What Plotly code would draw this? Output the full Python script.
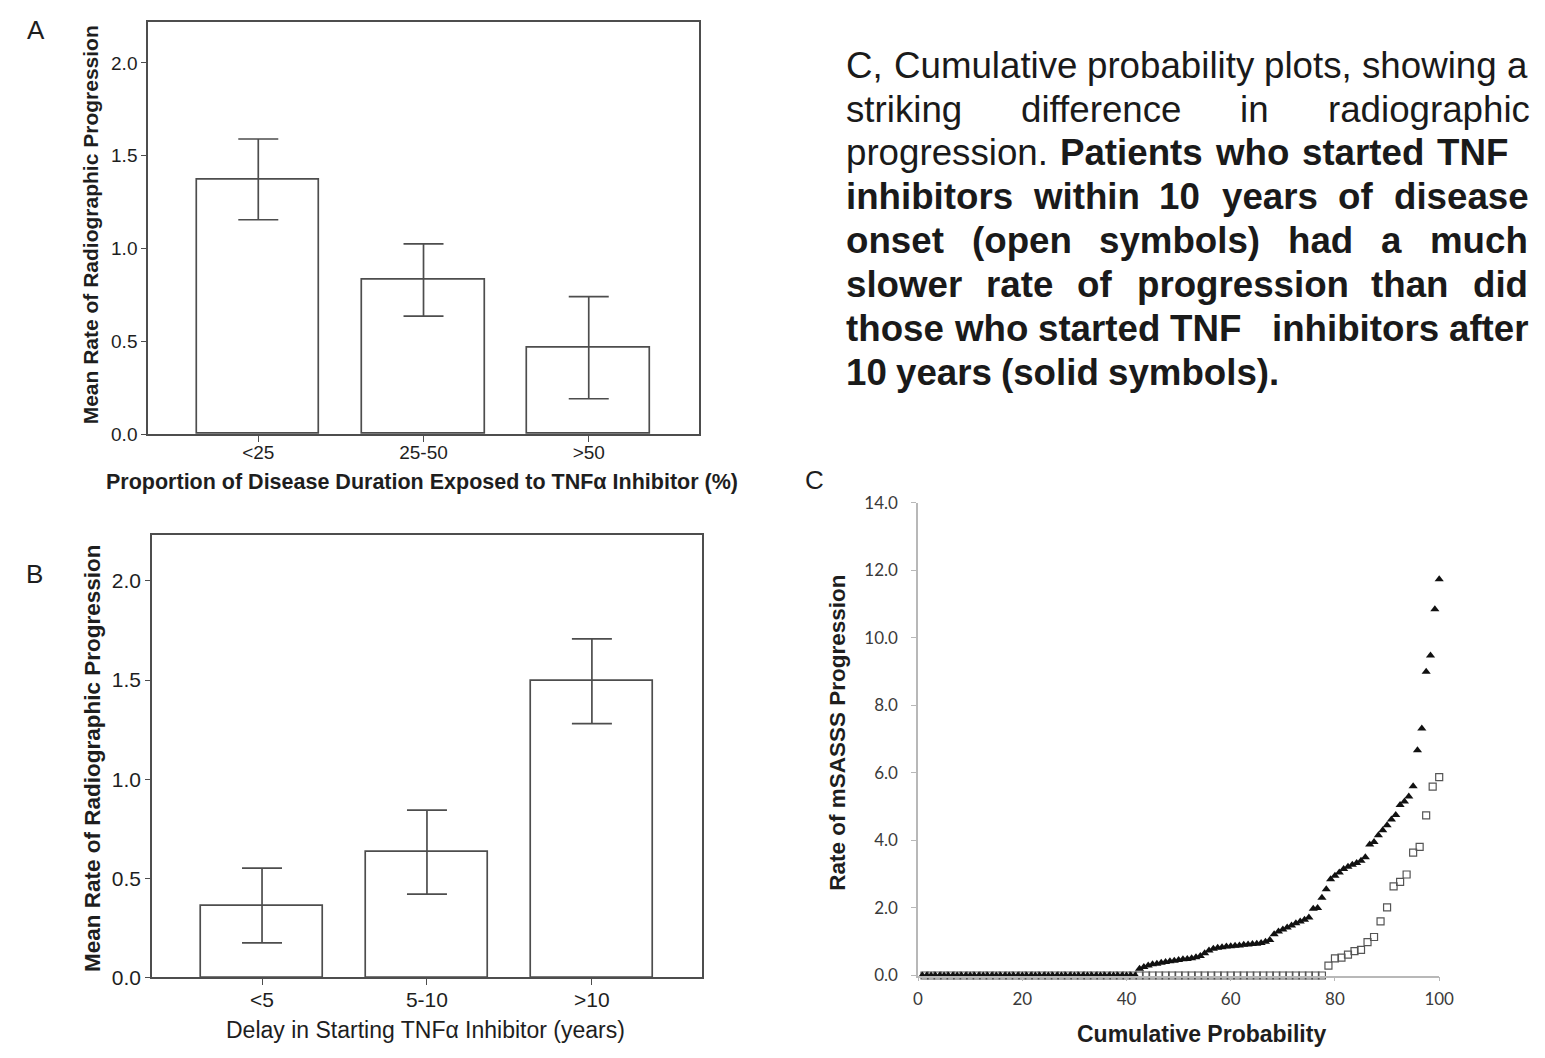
import plotly.graph_objects as go

W, H = 1545, 1058

# ---- Panel A: exposure proportion vs mean progression (mean with 95% CI) ----
exposure_groups = ["<25", "25-50", ">50"]
exposure_mean = [1.37, 0.83, 0.465]
exposure_ci_low = [1.155, 0.635, 0.19]
exposure_ci_high = [1.59, 1.025, 0.74]

# ---- Panel B: delay in starting treatment vs mean progression ----
delay_groups = ["<5", "5-10", ">10"]
delay_mean = [0.36, 0.632, 1.497]
delay_ci_low = [0.175, 0.42, 1.28]
delay_ci_high = [0.551, 0.844, 1.708]

# ---- Panel C: sorted mSASSS progression rates per group ----
# started after 10 years (solid triangles)
late_zero_count = 50
late_nonzero = [
    0.20, 0.25, 0.30, 0.33, 0.35, 0.38, 0.40, 0.42, 0.44, 0.46,
    0.48, 0.49, 0.51, 0.54, 0.58, 0.66, 0.74, 0.79, 0.82, 0.84,
    0.86, 0.87, 0.88, 0.89, 0.91, 0.92, 0.93, 0.94, 0.96, 1.00,
    1.05, 1.22, 1.30, 1.36, 1.42, 1.48, 1.55, 1.60, 1.65, 1.72,
    1.98, 2.00, 2.30, 2.55, 2.85, 2.95, 3.05, 3.15, 3.22, 3.28,
    3.33, 3.40, 3.50, 3.88, 3.95, 4.15, 4.30, 4.45, 4.62, 4.75,
    5.05, 5.15, 5.30, 5.60, 6.67, 7.31, 8.99, 9.47, 10.84, 11.73,
]
# started within 10 years (open squares)
early_zero_count = 62
early_nonzero = [
    0.29, 0.51, 0.53, 0.62, 0.72, 0.76, 0.99, 1.14, 1.60, 2.02,
    2.64, 2.77, 2.99, 3.64, 3.81, 4.74, 5.59, 5.87,
]

late_rates = [0.0] * late_zero_count + late_nonzero
early_rates = [0.0] * early_zero_count + early_nonzero


def cumulative_percent(values):
    n = len(values)
    return [100.0 * (i + 1) / n for i in range(n)]


def px(x):
    return x / W


def py(y):
    return 1 - y / H


AXIS_GREY = "#4d4d4d"
TEXT = "#1e1e1e"
FONT = "Liberation Sans"

fig = go.Figure()

bar_style = dict(color="white", line=dict(color=AXIS_GREY, width=1.7))

fig.add_trace(go.Bar(
    x=exposure_groups, y=exposure_mean, width=0.74,
    marker=bar_style,
    error_y=dict(type="data", symmetric=False,
                 array=[h - m for h, m in zip(exposure_ci_high, exposure_mean)],
                 arrayminus=[m - l for m, l in zip(exposure_mean, exposure_ci_low)],
                 color=AXIS_GREY, thickness=1.7, width=20),
    xaxis="x", yaxis="y", showlegend=False, hoverinfo="skip",
))

fig.add_trace(go.Bar(
    x=delay_groups, y=delay_mean, width=0.74,
    marker=bar_style,
    error_y=dict(type="data", symmetric=False,
                 array=[h - m for h, m in zip(delay_ci_high, delay_mean)],
                 arrayminus=[m - l for m, l in zip(delay_mean, delay_ci_low)],
                 color=AXIS_GREY, thickness=1.7, width=20),
    xaxis="x2", yaxis="y2", showlegend=False, hoverinfo="skip",
))

fig.add_trace(go.Scatter(
    x=cumulative_percent(early_rates), y=early_rates, mode="markers",
    marker=dict(symbol="square-open", size=7, color="#555555", line=dict(width=1.2)),
    xaxis="x3", yaxis="y3", showlegend=False, cliponaxis=False, hoverinfo="skip",
))

fig.add_trace(go.Scatter(
    x=cumulative_percent(late_rates), y=late_rates, mode="markers",
    marker=dict(symbol="triangle-up", size=8, color="#111111"),
    xaxis="x3", yaxis="y3", showlegend=False, cliponaxis=False, hoverinfo="skip",
))


def bar_xaxis(font_size, standoff):
    return dict(type="category", range=[-0.6667, 2.6667], showline=True, mirror=True,
                linecolor=AXIS_GREY, linewidth=1.7, ticks="outside", ticklen=6,
                tickcolor=AXIS_GREY, tickwidth=1.4, showgrid=False, zeroline=False,
                ticklabelstandoff=standoff,
                tickfont=dict(family=FONT, size=font_size, color=TEXT), fixedrange=True)


def bar_yaxis(font_size):
    return dict(tickvals=[0, 0.5, 1.0, 1.5, 2.0], tickformat=".1f", showline=True,
                mirror=True, linecolor=AXIS_GREY, linewidth=1.7, ticks="outside",
                ticklen=5, tickcolor=AXIS_GREY, tickwidth=1.4, showgrid=False,
                zeroline=False, tickfont=dict(family=FONT, size=font_size, color=TEXT),
                fixedrange=True)


C_GREY = "#b8b8b8"

fig.update_layout(
    width=W, height=H, margin=dict(l=0, r=0, t=0, b=0),
    paper_bgcolor="white", plot_bgcolor="white",
    bargap=0,
    xaxis=dict(bar_xaxis(19, -6), domain=[px(145), px(703)], anchor="y"),
    yaxis=dict(bar_yaxis(19), domain=[py(432), py(11)], range=[0, 2.222], anchor="x"),
    xaxis2=dict(bar_xaxis(21, -4), domain=[px(149), px(706)], anchor="y2"),
    yaxis2=dict(bar_yaxis(21), domain=[py(987), py(535)], range=[0, 2.232], anchor="x2"),
    xaxis3=dict(domain=[px(925), px(1453)], range=[0, 100], anchor="y3",
                tickvals=[0, 20, 40, 60, 80, 100], showline=True,
                linecolor=C_GREY, linewidth=1.5, ticks="outside", ticklen=4,
                tickcolor=C_GREY, showgrid=False, zeroline=False,
                ticklabelstandoff=3,
                tickfont=dict(family="Lato", size=17, color="#3a3a3a"),
                fixedrange=True),
    yaxis3=dict(domain=[py(985), py(502)], range=[0, 14], anchor="x3",
                tickvals=[0, 2, 4, 6, 8, 10, 12, 14], tickformat=".1f",
                showline=True, linecolor=C_GREY, linewidth=1.5, ticks="outside",
                ticklen=5, tickcolor=C_GREY, showgrid=False, zeroline=False,
                ticklabelstandoff=10,
                tickfont=dict(family="Lato", size=17, color="#3a3a3a"),
                fixedrange=True),
)

annotations = []


def label(text, x, y, size, bold=False, angle=0, family=FONT, color=TEXT,
          xanchor="center", yanchor="middle"):
    annotations.append(dict(
        text=f"<b>{text}</b>" if bold else text,
        x=px(x), y=py(y), xref="paper", yref="paper",
        xanchor=xanchor, yanchor=yanchor, showarrow=False, textangle=angle,
        borderpad=0, font=dict(family=family, size=size, color=color),
    ))


# panel letters
label("A", 31, 19, 26)
label("B", 30, 575, 26)
label("C", 820, 479, 26)

# axis titles
label("Mean Rate of Radiographic Progression", 87, 218, 21, bold=True, angle=-90)
label("Proportion of Disease Duration Exposed to TNFα Inhibitor (%)", 422, 481, 21.5, bold=True)
label("Mean Rate of Radiographic Progression", 88, 763, 22.5, bold=True, angle=-90)
label("Delay in Starting TNFα Inhibitor (years)", 426, 1041, 23)
label("Rate of mSASSS Progression", 844, 737, 22.5, bold=True, angle=-90)
label("Cumulative Probability", 1212, 1045, 23, bold=True)

# ---- justified caption block ----
REG = {" ": 278, "(": 333, ")": 333, ",": 278, ".": 278, "C": 722, "P": 667,
       "T": 611, "N": 722, "F": 611, "a": 556, "b": 556, "c": 500, "d": 556,
       "e": 556, "f": 278, "g": 556, "h": 556, "i": 222, "j": 222, "k": 500,
       "l": 222, "m": 833, "n": 556, "o": 556, "p": 556, "q": 556, "r": 333,
       "s": 500, "t": 278, "u": 556, "v": 500, "w": 722, "x": 500, "y": 500,
       "z": 500}
BOLD = {" ": 278, "(": 333, ")": 333, ",": 278, ".": 278, "C": 722, "P": 667,
        "T": 611, "N": 722, "F": 611, "a": 556, "b": 611, "c": 556, "d": 611,
        "e": 556, "f": 333, "g": 611, "h": 611, "i": 278, "j": 278, "k": 556,
        "l": 278, "m": 889, "n": 611, "o": 611, "p": 611, "q": 611, "r": 389,
        "s": 556, "t": 333, "u": 611, "v": 556, "w": 778, "x": 556, "y": 556,
        "z": 500}

CAP_SIZE = 36.7
CAP_LEFT, CAP_RIGHT = 851, 1541
FIRST_BASELINE, LAST_BASELINE = 68, 382


def word_width(word, bold):
    table = BOLD if bold else REG
    return sum(table.get(ch, 556) for ch in word) / 1000.0 * CAP_SIZE


# (words, bold flags, right edge, extra gap after word index, justified)
caption_lines = [
    ("C, Cumulative probability plots, showing a", "RRRRRR", CAP_RIGHT, {}, True),
    ("striking difference in radiographic", "RRRR", CAP_RIGHT, {}, True),
    ("progression. Patients who started TNF", "RBBBB", CAP_RIGHT - 20, {}, True),
    ("inhibitors within 10 years of disease", "BBBBBB", CAP_RIGHT, {}, True),
    ("onset (open symbols) had a much", "BBBBBB", CAP_RIGHT, {}, True),
    ("slower rate of progression than did", "BBBBBB", CAP_RIGHT, {}, True),
    ("those who started TNF inhibitors after", "BBBBBB", CAP_RIGHT, {3: 0.55}, True),
    ("10 years (solid symbols).", "BBBB", CAP_RIGHT, {}, False),
]

line_step = (LAST_BASELINE - FIRST_BASELINE) / (len(caption_lines) - 1)
for k, (line, flags, right, extra, justify) in enumerate(caption_lines):
    words = line.split(" ")
    bolds = [f == "B" for f in flags]
    widths = [word_width(w, b) for w, b in zip(words, bolds)]
    extra_px = {i: e * CAP_SIZE for i, e in extra.items()}
    if justify:
        gap = (right - CAP_LEFT - sum(widths) - sum(extra_px.values())) / (len(words) - 1)
    else:
        gap = 0.278 * CAP_SIZE
    baseline = FIRST_BASELINE + line_step * k
    center = baseline - 0.3465 * CAP_SIZE
    x = CAP_LEFT
    for i, (w, b, wd) in enumerate(zip(words, bolds, widths)):
        label(w, x, center, CAP_SIZE, bold=b, xanchor="left", color="#1a1a1a")
        x += wd + gap + extra_px.get(i, 0)

fig.update_layout(annotations=annotations)

fig.write_html("out.html", config={"displayModeBar": False})
